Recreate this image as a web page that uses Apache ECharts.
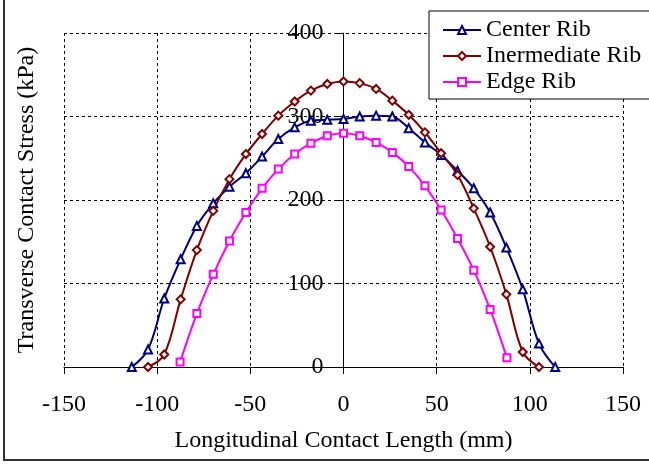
<!DOCTYPE html>
<html>
<head>
<meta charset="utf-8">
<script src="https://cdn.jsdelivr.net/npm/echarts@6/dist/echarts.min.js"></script>
<style>html,body{margin:0;padding:0;background:#fff}#c{width:649px;height:465px}</style>
</head>
<body>
<div id="c"></div>
<script>
var seriesNames = ['Center Rib', 'Inermediate Rib', 'Edge Rib'];
var xTickLabels = ['-150', '-100', '-50', '0', '50', '100', '150'];
var yTickLabels = ['0', '100', '200', '300', '400'];

var xCenter = [-113.6,-104.9,-96.2,-87.4,-78.7,-69.9,-61.2,-52.4,-43.7,-35.0,-26.2,-17.5,-8.7,0,8.7,17.5,26.2,35.0,43.7,52.4,61.2,69.9,78.7,87.4,96.2,104.9,113.6];
var yCenter = [0,21,82,129,169,196,216,232,252,273,287,295,296,297,300,301,300,286,269,254,235,214,185,143,93,28,0];

var xInter = [-104.9,-96.2,-87.4,-78.7,-69.9,-61.2,-52.4,-43.7,-35.0,-26.2,-17.5,-8.7,0,8.7,17.5,26.2,35.0,43.7,52.4,61.2,69.9,78.7,87.4,96.2,104.9];
var yInter = [0,15,81,140,187,225,255,279,301,318,331,339,342,340,333,319,302,281,256,230,190,144,87,18,0];

var xEdge = [-87.7,-78.7,-69.9,-61.2,-52.4,-43.7,-35.0,-26.2,-17.5,-8.7,0,8.7,17.5,26.2,35.0,43.7,52.4,61.2,69.9,78.7,87.7];
var yEdge = [6,64,111,151,185,214,237,255,268,277,280,277,269,257,240,217,188,154,116,69,11];

function pairs(xs, ys) { return xs.map(function (x, i) { return [x, ys[i]]; }); }

var FONT = '"Liberation Serif", "Times New Roman", serif';
var chart = echarts.init(document.getElementById('c'), null, {renderer: 'canvas'});

var GRID_LEFT = 64, GRID_RIGHT = 26;
var plotW = 649 - GRID_LEFT - GRID_RIGHT;

function mkSeries(name, xs, ys, color, symbol, size) {
  return {
    name: name, type: 'line', data: pairs(xs, ys), smooth: 0.35,
    symbol: symbol, symbolSize: size, showAllSymbol: true,
    lineStyle: {color: color, width: 2},
    itemStyle: {color: color, borderWidth: 1},
    clip: false, z: 3
  };
}

chart.setOption({
  animation: false,
  backgroundColor: '#fff',
  grid: {left: GRID_LEFT, right: GRID_RIGHT, top: 33, bottom: 98, containLabel: false},
  xAxis: {
    type: 'value', min: -150, max: 150, interval: 50,
    axisLine: {show: true, onZero: true, lineStyle: {color: '#000', width: 1}},
    axisTick: {show: true, inside: false, length: 7, lineStyle: {color: '#000'}},
    axisLabel: {color: '#000', fontSize: 24, fontFamily: FONT, margin: 26,
      formatter: function (v) { return xTickLabels[Math.round((v + 150) / 50)]; }},
    splitLine: {show: true, lineStyle: {color: '#000', type: [3, 3], width: 1}},
    name: 'Longitudinal Contact Length (mm)', nameLocation: 'middle', nameGap: 62,
    nameTextStyle: {color: '#000', fontSize: 24, fontFamily: FONT}
  },
  yAxis: {
    type: 'value', min: 0, max: 400, interval: 100, position: 'left',
    offset: -plotW / 2,
    axisLine: {show: true, onZero: false, lineStyle: {color: '#000', width: 1}},
    axisTick: {show: true, inside: false, length: 7, lineStyle: {color: '#000'}},
    axisLabel: {color: '#000', fontSize: 24, fontFamily: FONT, margin: 20,
      formatter: function (v) { return yTickLabels[Math.round(v / 100)]; }},
    splitLine: {show: true, lineStyle: {color: '#000', type: [3, 3], width: 1}}
  },
  legend: {
    orient: 'vertical', left: 429, top: 11,
    padding: [7, 40, 5, 13],
    borderColor: '#000', borderWidth: 1, backgroundColor: '#fff',
    itemWidth: 38, itemHeight: 10, itemGap: 2, itemTextGap: 6,
    textStyle: {color: '#000', fontSize: 24, fontFamily: FONT, lineHeight: 24},
    data: seriesNames
  },
  graphic: [
    {type: 'rect', shape: {x: 4, y: -6, width: 652, height: 466}, style: {fill: null, stroke: '#333', lineWidth: 2}, silent: true, z: 100},
    {type: 'text', x: 27, y: 200, rotation: Math.PI / 2,
      style: {text: 'Transverse Contact Stress (kPa)', font: '24px "Liberation Serif"', fill: '#000', align: 'center', verticalAlign: 'middle'}}
  ],
  series: [
    mkSeries(seriesNames[0], xCenter, yCenter, '#000080', 'emptyTriangle', 8),
    mkSeries(seriesNames[1], xInter, yInter, '#800000', 'emptyDiamond', 8),
    mkSeries(seriesNames[2], xEdge, yEdge, '#FF00FF', 'emptyRect', 7)
  ]
});
</script>
</body>
</html>
